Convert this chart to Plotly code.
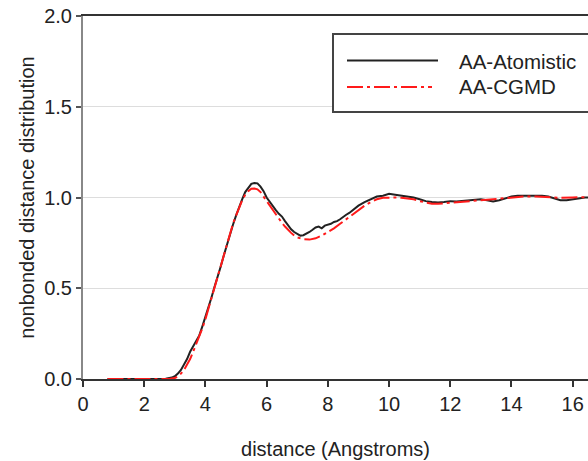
import plotly.graph_objects as go

# ---------------- data ----------------
atom_x = [0.8, 1.0, 1.5, 2.0, 2.5, 2.7, 2.9, 3.0, 3.1, 3.2, 3.3, 3.4, 3.5, 3.6, 3.7, 3.8, 3.9,
          4.0, 4.1, 4.2, 4.3, 4.4, 4.5, 4.6, 4.7, 4.8, 4.9, 5.0, 5.1, 5.2, 5.3, 5.4, 5.5, 5.6,
          5.7, 5.8, 5.9, 6.0, 6.1, 6.2, 6.3, 6.4, 6.5, 6.6, 6.7, 6.8, 6.9, 7.0, 7.1, 7.2, 7.3,
          7.4, 7.5, 7.6, 7.7, 7.8, 7.9, 8.0, 8.1, 8.2, 8.3, 8.4, 8.5, 8.6, 8.7, 8.8, 8.9, 9.0,
          9.2, 9.4, 9.6, 9.8, 10.0, 10.2, 10.4, 10.6, 10.8, 11.0, 11.2, 11.4, 11.6, 11.8, 12.0,
          12.2, 12.4, 12.6, 12.8, 13.0, 13.2, 13.4, 13.6, 13.8, 14.0, 14.2, 14.4, 14.6, 14.8,
          15.0, 15.2, 15.4, 15.6, 15.8, 16.0, 16.2, 16.4, 16.6]
atom_y = [0.0, 0.0, 0.0, 0.0, 0.0, 0.002, 0.008, 0.015, 0.03, 0.05, 0.08, 0.11, 0.15, 0.18, 0.21,
          0.24, 0.29, 0.34, 0.40, 0.45, 0.51, 0.56, 0.62, 0.68, 0.74, 0.80, 0.85, 0.90, 0.95,
          0.99, 1.03, 1.055, 1.075, 1.08, 1.078, 1.06, 1.035, 1.00, 0.975, 0.95, 0.93, 0.91,
          0.895, 0.87, 0.845, 0.825, 0.81, 0.80, 0.79, 0.792, 0.80, 0.81, 0.822, 0.835, 0.84,
          0.83, 0.845, 0.85, 0.855, 0.865, 0.87, 0.88, 0.895, 0.905, 0.915, 0.93, 0.945, 0.955,
          0.975, 0.99, 1.005, 1.01, 1.02, 1.015, 1.01, 1.005, 1.0, 0.99, 0.98, 0.975, 0.972,
          0.975, 0.98, 0.978, 0.982, 0.985, 0.99, 0.99, 0.985, 0.978, 0.985, 0.995, 1.005, 1.01,
          1.01, 1.012, 1.008, 1.01, 1.005, 0.995, 0.985, 0.985, 0.99, 0.995, 1.0, 1.0]

cg_x = [0.8, 1.0, 1.5, 2.0, 2.5, 2.8, 3.0, 3.1, 3.2, 3.3, 3.4, 3.5, 3.6, 3.7, 3.8, 3.9, 4.0,
        4.1, 4.2, 4.3, 4.4, 4.5, 4.6, 4.7, 4.8, 4.9, 5.0, 5.1, 5.2, 5.3, 5.4, 5.5, 5.6, 5.7,
        5.8, 5.9, 6.0, 6.1, 6.2, 6.3, 6.4, 6.5, 6.6, 6.7, 6.8, 6.9, 7.0, 7.2, 7.4, 7.6, 7.8,
        8.0, 8.2, 8.4, 8.6, 8.8, 9.0, 9.2, 9.4, 9.6, 9.8, 10.0, 10.2, 10.4, 10.6, 10.8, 11.0,
        11.2, 11.4, 11.6, 11.8, 12.0, 12.4, 12.8, 13.2, 13.6, 14.0, 14.4, 14.8, 15.2, 15.6,
        16.0, 16.6]
cg_y = [0.0, 0.0, 0.0, 0.0, 0.0, 0.0, 0.005, 0.015, 0.03, 0.05, 0.08, 0.11, 0.15, 0.19, 0.23,
        0.28, 0.33, 0.39, 0.45, 0.51, 0.565, 0.62, 0.68, 0.74, 0.80, 0.855, 0.90, 0.945, 0.985,
        1.015, 1.035, 1.048, 1.05, 1.045, 1.03, 1.005, 0.98, 0.955, 0.93, 0.905, 0.88, 0.86,
        0.84, 0.82, 0.805, 0.79, 0.78, 0.77, 0.768, 0.775, 0.79, 0.81, 0.83, 0.855, 0.88,
        0.91, 0.935, 0.955, 0.975, 0.99, 0.998, 1.0, 1.0, 0.998, 0.995, 0.99, 0.98, 0.972,
        0.965, 0.965, 0.968, 0.972, 0.978, 0.985, 0.99, 0.995, 1.0, 1.005, 1.005, 1.0, 0.998,
        1.0, 1.003]

series_names = ["AA-Atomistic", "AA-CGMD"]
x_ticks = [0, 2, 4, 6, 8, 10, 12, 14, 16]
y_ticks = [0.0, 0.5, 1.0, 1.5, 2.0]
y_tick_text = ["0.0", "0.5", "1.0", "1.5", "2.0"]

# ---------------- figure ----------------
FONT = "Liberation Sans, Arial, sans-serif"
RED = "#ff1a1a"
DASHDOT = "16px,4px,3px,4px"

fig = go.Figure()
fig.add_trace(go.Scatter(x=atom_x, y=atom_y, mode="lines", name=series_names[0],
                         line=dict(color="#222222", width=2), showlegend=False))
fig.add_trace(go.Scatter(x=cg_x, y=cg_y, mode="lines", name=series_names[1],
                         line=dict(color=RED, width=2, dash=DASHDOT), showlegend=False))

L, T, R, B = 83, 16, 588, 379
def px(x):
    return (x - L) / (R - L)
def py(y):
    return (B - y) / (B - T)

shapes = [
    dict(type="rect", xref="paper", yref="paper", x0=px(333), x1=1.2, y0=py(112), y1=py(34),
         line=dict(color="#444444", width=2), fillcolor="white", layer="above"),
    dict(type="line", xref="paper", yref="paper", x0=px(347), x1=px(438), y0=py(60.5), y1=py(60.5),
         line=dict(color="#222222", width=2), layer="above"),
    dict(type="line", xref="paper", yref="paper", x0=px(347), x1=px(432), y0=py(87), y1=py(87),
         line=dict(color=RED, width=2, dash=DASHDOT), layer="above"),
]
annotations = [
    dict(text=series_names[0], xref="paper", yref="paper", x=px(457), y=py(62), xanchor="left",
         yanchor="middle", showarrow=False, font=dict(family=FONT, size=20.5, color="#222222")),
    dict(text=series_names[1], xref="paper", yref="paper", x=px(457), y=py(87), xanchor="left",
         yanchor="middle", showarrow=False, font=dict(family=FONT, size=20.5, color="#222222")),
]

fig.update_layout(
    width=588, height=461,
    margin=dict(l=L, r=588 - R, t=T, b=461 - B),
    paper_bgcolor="white", plot_bgcolor="white",
    font=dict(family=FONT, size=20, color="#222222"),
    shapes=shapes, annotations=annotations,
    xaxis=dict(range=[0, 16.5], tickvals=x_ticks, ticks="outside", ticklen=6, tickwidth=2,
               tickcolor="#333333", showline=True, linecolor="#333333", linewidth=2,
               mirror=True, showgrid=False, zeroline=False, tickfont=dict(size=20),
               title=dict(text="distance (Angstroms)", standoff=28, font=dict(size=20))),
    yaxis=dict(range=[0, 2], tickvals=y_ticks, ticktext=y_tick_text, ticks="outside", ticklen=5,
               tickwidth=2, tickcolor="#555555", showline=True, linecolor="#888888", linewidth=2,
               showgrid=True, gridcolor="#dddddd", gridwidth=1, zeroline=False,
               tickfont=dict(size=20),
               title=dict(text="nonbonded distance distribution", standoff=4, font=dict(size=20))),
)

fig.write_html("out.html")
